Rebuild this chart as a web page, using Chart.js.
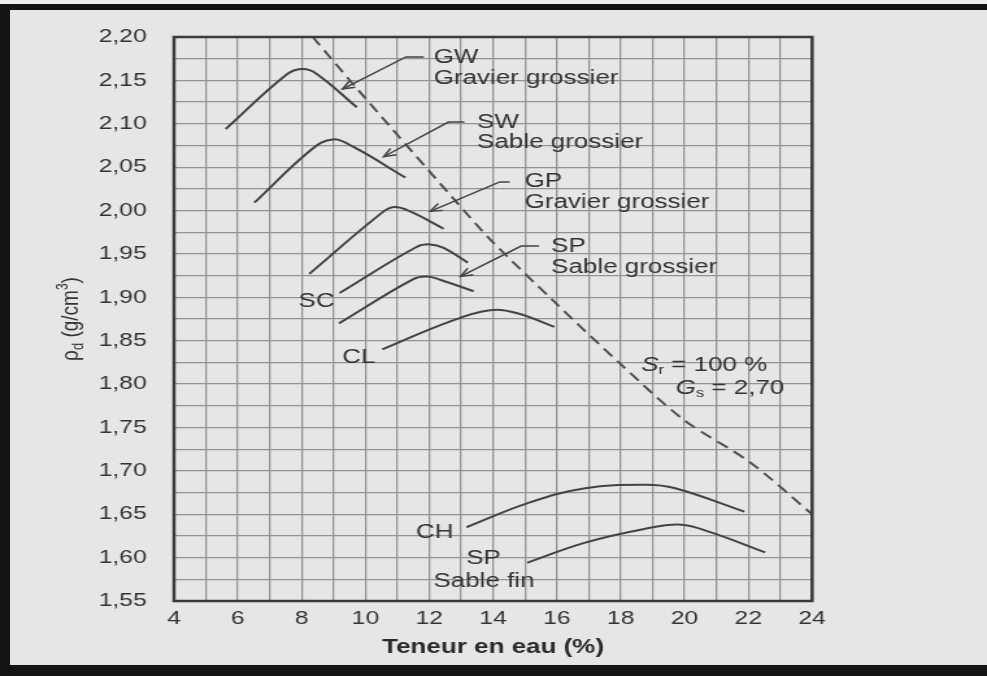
<!DOCTYPE html>
<html>
<head>
<meta charset="utf-8">
<title>Courbes de compactage</title>
<script src="https://cdn.jsdelivr.net/npm/chart.js@4.4.1/dist/chart.umd.min.js"></script>
<style>
  html, body { margin: 0; padding: 0; background: #efefef; }
  #sheet {
    position: absolute; left: 0; top: 4px; width: 987px; height: 672px; box-sizing: border-box;
    border-top: 6px solid #141414; border-left: 10px solid #141414; border-bottom: 11px solid #141414;
    background: #e6e6e6;
  }
  #compaction { position: absolute; left: 0; top: 0; }
</style>
</head>
<body>
<div id="sheet"></div>
<!-- the scan is wide: draw on a narrower canvas and let CSS stretch it -->
<canvas id="compaction" width="760" height="676" style="width:987px;height:676px"></canvas>
<script>
// Water content (%) and dry density (g/cm3)
const waterGW = [5.62, 7.5, 8.0, 8.45, 9.73];
const rhoGW   = [2.094, 2.156, 2.163, 2.158, 2.119];
const waterSW = [6.52, 8.3, 8.98, 9.64, 11.25];
const rhoSW   = [2.009, 2.070, 2.082, 2.073, 2.038];
const waterGP = [8.24, 10.5, 10.9, 11.4, 12.45];
const rhoGP   = [1.927, 1.997, 2.004, 1.999, 1.979];
const waterSC = [9.19, 11.6, 12.03, 12.45, 13.21];
const rhoSC   = [1.905, 1.958, 1.961, 1.957, 1.940];
const waterSPg = [9.17, 11.5, 11.94, 12.36, 13.39];
const rhoSPg   = [1.870, 1.921, 1.924, 1.920, 1.907];
const waterCL = [10.53, 12.64, 13.9, 14.73, 15.92];
const rhoCL   = [1.840, 1.872, 1.885, 1.882, 1.866];
const waterCH = [13.17, 15.11, 16.89, 18.77, 19.71, 21.88];
const rhoCH   = [1.635, 1.663, 1.680, 1.684, 1.680, 1.653];
const waterSPf = [15.07, 16.86, 18.74, 19.89, 20.83, 22.53];
const rhoSPf   = [1.594, 1.617, 1.633, 1.638, 1.629, 1.606];
// saturation line Sr = 100 %, Gs = 2,70
const waterSat = [8.35, 9.7, 12.8, 13.93, 15.86, 17.94, 19.97, 22.05, 24];
const rhoSat   = [2.20, 2.142, 2.012, 1.966, 1.897, 1.825, 1.759, 1.710, 1.65];

// Axis ticks
const waterMin = 4, waterMax = 24, waterStep = 1;
const rhoMin = 1.55, rhoMax = 2.20, rhoStep = 0.025;

// Curve labels (left edge, middle)
const labelText = ['GW', 'Gravier grossier', 'SW', 'Sable grossier', 'GP', 'Gravier grossier',
                   'SP', 'Sable grossier', 'SC', 'CL', 'CH', 'SP', 'Sable fin'];
const labelW   = [12.14, 12.14, 13.5, 13.5, 14.99, 14.99, 15.82, 15.82, 7.9, 9.27, 11.58, 13.16, 12.13];
const labelRho = [2.176, 2.152, 2.102, 2.078, 2.033, 2.009, 1.959, 1.934, 1.895, 1.831, 1.629, 1.599, 1.573];

// Leader lines ending in an arrow
const leaderW   = [[11.83, 11.27, 9.28], [13.1, 12.6, 10.57], [14.52, 14.21, 12.03], [15.44, 14.88, 12.98]];
const leaderRho = [[2.177, 2.177, 2.140], [2.102, 2.102, 2.062], [2.033, 2.033, 1.999], [1.959, 1.959, 1.924]];

// Saturation note
const noteW = [18.64, 19.72];
const noteRho = [1.821, 1.795];

const FONT = '"Liberation Sans", Arial, Helvetica, sans-serif';
const INK = '#333333';
const CURVE = '#434343';
const GRID = '#939393';

function toPoints(xs, ys) {
    return xs.map((v, i) => ({ x: v, y: ys[i] }));
}

function curve(label, xs, ys) {
    return {
        label: label,
        data: toPoints(xs, ys),
        borderColor: CURVE,
        borderWidth: 2,
        pointRadius: 0,
        tension: 0.4,
        fill: false
    };
}

// Draw a run of text pieces with their own fonts and vertical offsets
function drawParts(ctx, parts, x0, y0) {
    let cx = x0;
    parts.forEach(p => {
        ctx.font = p.font;
        ctx.fillText(p.text, cx, y0 + (p.dy || 0));
        cx += ctx.measureText(p.text).width;
    });
    return cx - x0;
}

const annotations = {
    id: 'annotations',
    afterDatasetsDraw(chart) {
        const { ctx, chartArea, scales: { x, y } } = chart;
        ctx.save();

        // plot frame
        ctx.strokeStyle = '#3a3a3a';
        ctx.lineWidth = 2.5;
        ctx.strokeRect(chartArea.left, chartArea.top, chartArea.width, chartArea.height);

        // leaders with arrow heads
        ctx.strokeStyle = CURVE;
        ctx.lineWidth = 1.5;
        leaderW.forEach((ws, i) => {
            const pts = ws.map((w, k) => [x.getPixelForValue(w), y.getPixelForValue(leaderRho[i][k])]);
            ctx.beginPath();
            pts.forEach(([px, py], k) => k ? ctx.lineTo(px, py) : ctx.moveTo(px, py));
            ctx.stroke();
            const [x1, y1] = pts[pts.length - 2];
            const [x2, y2] = pts[pts.length - 1];
            const a = Math.atan2(y2 - y1, x2 - x1);
            ctx.beginPath();
            ctx.moveTo(x2 - 10 * Math.cos(a - 0.4), y2 - 10 * Math.sin(a - 0.4));
            ctx.lineTo(x2, y2);
            ctx.lineTo(x2 - 10 * Math.cos(a + 0.4), y2 - 10 * Math.sin(a + 0.4));
            ctx.stroke();
        });

        // curve labels
        ctx.fillStyle = INK;
        ctx.textBaseline = 'middle';
        ctx.textAlign = 'left';
        ctx.font = '20px ' + FONT;
        labelText.forEach((t, i) => {
            ctx.fillText(t, x.getPixelForValue(labelW[i]), y.getPixelForValue(labelRho[i]));
        });

        // Sr = 100 %, Gs = 2,70
        drawParts(ctx, [
            { text: 'S', font: 'italic 20px ' + FONT },
            { text: 'r', font: '13px ' + FONT, dy: 5 },
            { text: ' = 100 %', font: '20px ' + FONT }
        ], x.getPixelForValue(noteW[0]), y.getPixelForValue(noteRho[0]));
        drawParts(ctx, [
            { text: 'G', font: 'italic 20px ' + FONT },
            { text: 's', font: '13px ' + FONT, dy: 5 },
            { text: ' = 2,70', font: '20px ' + FONT }
        ], x.getPixelForValue(noteW[1]), y.getPixelForValue(noteRho[1]));

        // y axis title, rotated, with subscript and superscript
        const parts = [
            { text: 'ρ', font: '19px ' + FONT },
            { text: 'd', font: '13px ' + FONT, dy: 5 },
            { text: ' (g/cm', font: '19px ' + FONT },
            { text: '3', font: '12px ' + FONT, dy: -6 },
            { text: ')', font: '19px ' + FONT }
        ];
        ctx.translate(55, (chartArea.top + chartArea.bottom) / 2);
        ctx.rotate(-Math.PI / 2);
        let len = 0;
        parts.forEach(p => { ctx.font = p.font; len += ctx.measureText(p.text).width; });
        drawParts(ctx, parts, -len / 2, 0);

        ctx.restore();
    }
};

new Chart(document.getElementById('compaction'), {
    type: 'line',
    data: {
        datasets: [
            curve('GW', waterGW, rhoGW),
            curve('SW', waterSW, rhoSW),
            curve('GP', waterGP, rhoGP),
            curve('SC', waterSC, rhoSC),
            curve('SP grossier', waterSPg, rhoSPg),
            curve('CL', waterCL, rhoCL),
            curve('CH', waterCH, rhoCH),
            curve('SP fin', waterSPf, rhoSPf),
            {
                label: 'Sr = 100 %',
                data: toPoints(waterSat, rhoSat),
                borderColor: '#505050',
                borderWidth: 2,
                borderDash: [10, 6],
                pointRadius: 0,
                tension: 0.3,
                fill: false
            }
        ]
    },
    options: {
        responsive: false,
        animation: false,
        layout: {
            padding: { left: 0, top: 37, right: 134.7, bottom: 0 }
        },
        plugins: {
            legend: { display: false },
            tooltip: { enabled: false }
        },
        scales: {
            x: {
                type: 'linear',
                min: waterMin,
                max: waterMax,
                afterFit: (scale) => { scale.height = 75; },
                grid: { color: GRID, lineWidth: 1.3, drawTicks: false },
                border: { display: false },
                ticks: {
                    stepSize: waterStep,
                    autoSkip: false,
                    maxRotation: 0,
                    padding: 6,
                    color: INK,
                    font: { family: FONT, size: 19 },
                    callback: (v) => (v % 2 === 0 ? String(v) : '')
                },
                title: {
                    display: true,
                    text: 'Teneur en eau (%)',
                    color: '#2a2a2a',
                    font: { family: FONT, size: 20, weight: 'bold' },
                    padding: { top: 4, bottom: 17 }
                }
            },
            y: {
                type: 'linear',
                min: rhoMin,
                max: rhoMax,
                afterFit: (scale) => { scale.width = 134; },
                grid: { color: GRID, lineWidth: 1.3, drawTicks: false },
                border: { display: false },
                ticks: {
                    stepSize: rhoStep,
                    autoSkip: false,
                    padding: 21,
                    color: INK,
                    font: { family: FONT, size: 19 },
                    callback: (v) => (Math.round(v * 1000) % 50 === 0 ? v.toFixed(2).replace('.', ',') : '')
                }
            }
        }
    },
    plugins: [annotations]
});
</script>
</body>
</html>
